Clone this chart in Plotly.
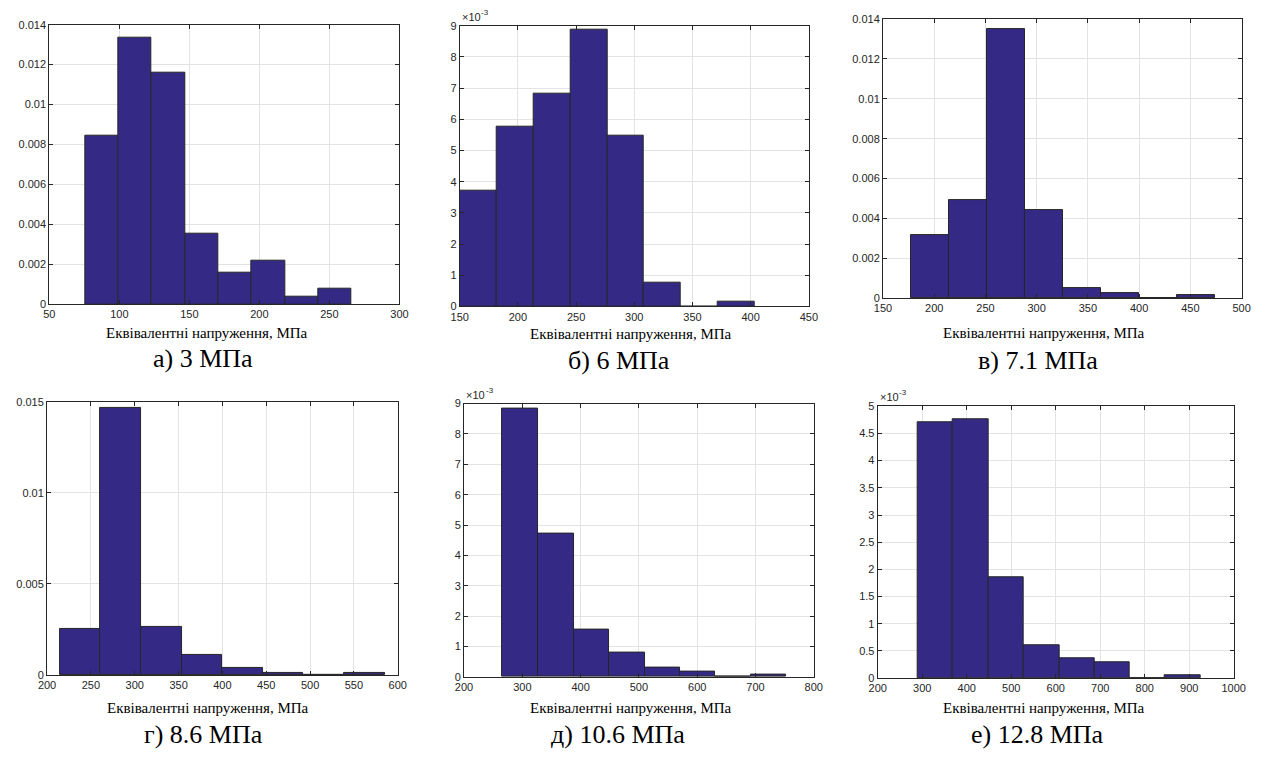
import plotly.graph_objects as go

# Histogram bin edges (MPa) and probability densities for each inlet pressure
edges_a = [75.5, 99.3, 123.1, 146.9, 170.7, 194.5, 218.3, 242.1, 265.9]
dens_a = [0.00846, 0.01337, 0.01161, 0.00355, 0.00158, 0.00217, 0.00040, 0.00079]

edges_b = [150.0, 181.7, 213.4, 245.1, 276.8, 308.5, 340.2, 371.9, 403.6]
dens_b = [0.00371, 0.00577, 0.00682, 0.00888, 0.00548, 0.00075, 0.0, 0.00015]

edges_c = [177.2, 214.3, 251.4, 288.6, 325.8, 363.0, 400.1, 437.3, 474.4]
dens_c = [0.00318, 0.00494, 0.01349, 0.00443, 0.00053, 0.00026, 0.0, 0.00015]

edges_d = [214.6, 260.9, 307.2, 353.5, 399.9, 446.2, 492.5, 538.8, 585.1]
dens_d = [0.00252, 0.01466, 0.00265, 0.00110, 0.00040, 0.00011, 0.0, 0.00011]

edges_e = [265.8, 327.7, 388.4, 449.2, 509.9, 570.6, 631.4, 692.1, 752.9]
dens_e = [0.00883, 0.00473, 0.00156, 0.00079, 0.00031, 0.00016, 0.0, 0.00009]

edges_f = [289.1, 369.4, 449.0, 528.5, 608.1, 687.7, 767.2, 846.0, 925.6]
dens_f = [0.00470, 0.00476, 0.00185, 0.00060, 0.00036, 0.00030, 0.0, 0.00006]

captions = ["а) 3 МПа", "б) 6 МПа", "в) 7.1 МПа", "г) 8.6 МПа", "д) 10.6 МПа", "е) 12.8 МПа"]
x_title = "Еквівалентні напруження, МПа"

# x-axis ranges / ticks
x_ticks_a = [50, 100, 150, 200, 250, 300]
x_ticks_b = [150, 200, 250, 300, 350, 400, 450]
x_ticks_c = [150, 200, 250, 300, 350, 400, 450, 500]
x_ticks_d = [200, 250, 300, 350, 400, 450, 500, 550, 600]
x_ticks_e = [200, 300, 400, 500, 600, 700, 800]
x_ticks_f = [200, 300, 400, 500, 600, 700, 800, 900, 1000]

# y-axis tick values and their printed labels
y_ticks_small = [0, 0.002, 0.004, 0.006, 0.008, 0.01, 0.012, 0.014]
y_text_small = ["0", "0.002", "0.004", "0.006", "0.008", "0.01", "0.012", "0.014"]
y_ticks_9 = [k * 1e-3 for k in range(10)]
y_text_9 = [str(k) for k in range(10)]
y_ticks_d = [0, 0.005, 0.01, 0.015]
y_text_d = ["0", "0.005", "0.01", "0.015"]
y_ticks_5 = [k * 0.5e-3 for k in range(11)]
y_text_5 = ["0", "0.5", "1", "1.5", "2", "2.5", "3", "3.5", "4", "4.5", "5"]

W, H = 1269, 757

panels = [
    dict(edges=edges_a, dens=dens_a, xt=x_ticks_a, yt=y_ticks_small, ytx=y_text_small,
         ymax=0.014, exp=False, box=(41, 397, 19, 303), title=(201, 332), cap=(197, 358)),
    dict(edges=edges_b, dens=dens_b, xt=x_ticks_b, yt=y_ticks_9, ytx=y_text_9,
         ymax=0.009, exp=True, box=(458.3, 813.3, 20, 305.3), title=(632, 333), cap=(620, 360)),
    dict(edges=edges_c, dens=dens_c, xt=x_ticks_c, yt=y_ticks_small, ytx=y_text_small,
         ymax=0.014, exp=False, box=(888.7, 1253.3, 13.3, 297), title=(1052, 332), cap=(1046, 360)),
    dict(edges=edges_d, dens=dens_d, xt=x_ticks_d, yt=y_ticks_d, ytx=y_text_d,
         ymax=0.015, exp=False, box=(38.7, 395.3, 402.3, 679.7), title=(202, 713), cap=(198, 740)),
    dict(edges=edges_e, dens=dens_e, xt=x_ticks_e, yt=y_ticks_9, ytx=y_text_9,
         ymax=0.009, exp=True, box=(462.7, 818.3, 404, 681.7), title=(632, 713), cap=(619, 740)),
    dict(edges=edges_f, dens=dens_f, xt=x_ticks_f, yt=y_ticks_5, ytx=y_text_5,
         ymax=0.005, exp=True, box=(883.3, 1245.3, 406.7, 683), title=(1052, 713), cap=(1046, 740)),
]

BAR = "#342a86"
EDGE = "#262626"
AXIS = "#262626"
GRID = "#e3e3e3"
SANS = "Liberation Sans"
SERIF = "Liberation Serif"

fig = go.Figure()
annotations = []

for i, p in enumerate(panels):
    n = "" if i == 0 else str(i + 1)
    e = p["edges"]
    centers = [(e[k] + e[k + 1]) / 2 for k in range(len(e) - 1)]
    widths = [e[k + 1] - e[k] for k in range(len(e) - 1)]
    fig.add_trace(go.Bar(
        x=centers, y=p["dens"], width=widths,
        marker=dict(color=BAR, line=dict(color=EDGE, width=1)),
        xaxis="x" + n, yaxis="y" + n, showlegend=False, hoverinfo="x+y",
    ))
    x0, x1, y0, y1 = p["box"]
    common = dict(
        showgrid=True, gridcolor=GRID, gridwidth=1,
        showline=True, linecolor=AXIS, linewidth=1, mirror="ticks",
        ticks="inside", ticklen=4, tickcolor=AXIS, tickwidth=1,
        tickfont=dict(family=SANS, size=11, color=AXIS),
        zeroline=False, fixedrange=True,
    )
    fig.update_layout({
        "xaxis" + n: dict(common, domain=[x0 / W, x1 / W], anchor="y" + n,
                          range=[p["xt"][0], p["xt"][-1]], tickvals=p["xt"]),
        "yaxis" + n: dict(common, domain=[1 - y1 / H, 1 - y0 / H], anchor="x" + n,
                          range=[0, p["ymax"]], tickvals=p["yt"], ticktext=p["ytx"]),
    })
    if p["exp"]:
        # axis multiplier: "×10" with a raised "-3"
        annotations.append(dict(
            text="×10", xref="paper", yref="paper",
            x=x0 / W, y=1 - (y0 - 1) / H, xanchor="left", yanchor="bottom",
            showarrow=False, font=dict(family=SANS, size=11, color=AXIS)))
        annotations.append(dict(
            text="-3", xref="paper", yref="paper",
            x=(x0 + 20) / W, y=1 - (y0 - 7) / H, xanchor="left", yanchor="bottom",
            showarrow=False, font=dict(family=SANS, size=8, color=AXIS)))
    tx, ty = p["title"]
    annotations.append(dict(
        text=x_title, xref="paper", yref="paper", x=tx / W, y=1 - ty / H,
        xanchor="center", yanchor="middle", showarrow=False,
        font=dict(family=SERIF, size=15, color="black")))
    cx, cy = p["cap"]
    annotations.append(dict(
        text=captions[i], xref="paper", yref="paper", x=cx / W, y=1 - cy / H,
        xanchor="center", yanchor="middle", showarrow=False,
        font=dict(family=SERIF, size=26, color="black")))

fig.update_layout(
    width=W, height=H, margin=dict(l=0, r=0, t=0, b=0),
    paper_bgcolor="white", plot_bgcolor="white",
    bargap=0, annotations=annotations,
)

fig.write_html("out.html")
